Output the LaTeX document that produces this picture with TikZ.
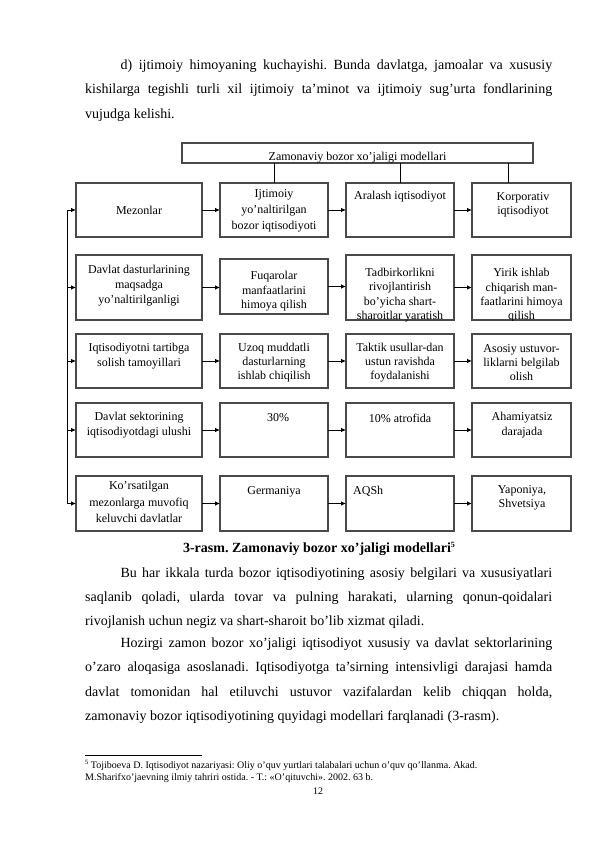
\documentclass[tikz,border=0pt]{standalone}
\usepackage{fontspec}
\setmainfont{Liberation Serif}
\usetikzlibrary{arrows.meta}
\definecolor{boxgray}{HTML}{4A4A4A}
\newcommand\jline[1]{\hbox to 467pt{#1}}
\begin{document}
\frenchspacing
\begin{tikzpicture}[x=1pt,y=-1pt,
  box/.style 2 args={draw=boxgray, line width=1.1pt, minimum width=#1pt, minimum height=#2pt, inner sep=0pt, outer sep=0pt},
  lbl/.style={font=\fontsize{12}{14.5}\selectfont, align=center, inner sep=0pt},
  conn/.style={line width=0.8pt, black},
  arr/.style={conn, -{Latex[length=5pt,width=4.5pt]}},
  para/.style={font=\fontsize{14}{24.3}\selectfont, inner sep=0pt, anchor=base west}]
\useasboundingbox (0,0) rectangle (595,842);
\fill[white] (0,0) rectangle (595,842);

% ---------- paragraph 1
\node[para] (p1) at (85,69.5) {\parbox[t]{467pt}{%
\jline{\hspace*{35.4pt}d) ijtimoiy himoyaning kuchayishi. Bunda davlatga, jamoalar va xususiy}
\jline{kishilarga tegishli turli xil ijtimoiy ta’minot va ijtimoiy sug’urta fondlarining}
\hbox{vujudga kelishi.}}};

% ---------- diagram boxes
\node[box={351}{20}] (top) at (357.5,153) {};
\node[lbl, anchor=base] (ttop) at (357.5,160.5) {Zamonaviy bozor xo’jaligi modellari};

\node[box={126}{54}] (b11) at (139,210) {};
\node[box={108}{54}] (b12) at (274,210) {};
\node[box={108}{54}] (b13) at (400,210) {};
\node[box={99}{54}]  (b14) at (521.5,210) {};

\node[box={126}{65}] (b21) at (139,287.5) {};
\node[box={108}{55}] (b22) at (274,286.5) {};
\node[box={108}{65}] (b23) at (400,287.5) {};
\node[box={99}{65}]  (b24) at (521.5,287.5) {};

\node[box={126}{54}] (b31) at (139,361) {};
\node[box={108}{54}] (b32) at (274,361) {};
\node[box={108}{54}] (b33) at (400,361) {};
\node[box={99}{54}]  (b34) at (521.5,361) {};

\node[box={126}{54}] (b41) at (139,430) {};
\node[box={108}{54}] (b42) at (274,430) {};
\node[box={108}{54}] (b43) at (400,430) {};
\node[box={99}{54}]  (b44) at (521.5,430) {};

\node[box={126}{55}] (b51) at (139,503.5) {};
\node[box={108}{55}] (b52) at (274,503.5) {};
\node[box={108}{55}] (b53) at (400,503.5) {};
\node[box={99}{55}]  (b54) at (521.5,503.5) {};

% ---------- box texts
\node[lbl] (t11) at (139,210) {Mezonlar};
\node[lbl, font=\fontsize{12}{16}\selectfont] (t12) at (274,211) {Ijtimoiy\\yo’naltirilgan\\bozor iqtisodiyoti};
\node[lbl] (t13) at (400,197) {Aralash iqtisodiyot};
\node[lbl] (t14) at (523,205) {Korporativ\\iqtisodiyot};

\node[lbl, font=\fontsize{12}{15}\selectfont] (t21) at (139,285.5) {Davlat dasturlarining\\maqsadga\\yo’naltirilganligi};
\node[lbl] (t22) at (274,291.5) {Fuqarolar\\manfaatlarini\\himoya qilish};
\node[lbl, font=\fontsize{12}{14.3}\selectfont] (t23) at (400,295) {Tadbirkorlikni\\rivojlantirish\\bo’yicha shart-\\sharoitlar yaratish};
\begin{scope}
\clip (b24.north west) rectangle (b24.south east);
\node[lbl, font=\fontsize{12}{14.3}\selectfont] (t24) at (521.5,295.5) {Yirik ishlab\\chiqarish man-\\faatlarini himoya\\qilish};
\end{scope}

\node[lbl] (t31) at (139,356) {Iqtisodiyotni tartibga\\solish tamoyillari};
\node[lbl, font=\fontsize{12}{14}\selectfont] (t32) at (274,363) {Uzoq muddatli\\dasturlarning\\ishlab chiqilish};
\node[lbl, font=\fontsize{12}{14}\selectfont] (t33) at (400,363) {Taktik usullar-dan\\ustun ravishda\\foydalanishi};
\node[lbl, font=\fontsize{12}{14}\selectfont] (t34) at (521.5,363) {Asosiy ustuvor-\\liklarni belgilab\\olish};

\node[lbl, font=\fontsize{12}{15}\selectfont] (t41) at (139,425.5) {Davlat sektorining\\iqtisodiyotdagi ulushi};
\node[lbl] (t42) at (278,418) {30\%};
\node[lbl] (t43) at (400,418) {10\% atrofida};
\node[lbl, font=\fontsize{12}{15}\selectfont] (t44) at (522,425.5) {Ahamiyatsiz\\darajada};

\node[lbl, font=\fontsize{12}{16.5}\selectfont] (t51) at (139,502) {Ko’rsatilgan\\mezonlarga muvofiq\\keluvchi davlatlar};
\node[lbl] (t52) at (274,492) {Germaniya};
\node[lbl, anchor=west] (t53) at (353,491) {AQSh};
\node[lbl, font=\fontsize{12}{14}\selectfont] (t54) at (522,498) {Yaponiya,\\Shvetsiya};

% ---------- connectors from the title box
\draw[conn] (b12.north) -- (b12.north |- top.south);
\draw[conn] (b13.north) -- (b13.north |- top.south);
\coordinate (k4) at ([xshift=-13.5pt]b14.north);
\draw[conn] (k4) -- (k4 |- top.south);

% ---------- left spine
\coordinate (sp) at (67,0);
\draw[conn] (sp |- b11.west) -- (sp |- b51.west);
\foreach \r in {1,...,5}{
  \draw[arr] (sp |- b\r1.west) -- (b\r1.west);
  \draw[arr] (b\r1.east) -- (b\r1.east -| b\r2.west);
  \draw[arr] (b\r2.east) -- (b\r2.east -| b\r3.west);
  \draw[arr] (b\r3.east) -- (b\r3.east -| b\r4.west);
}

% ---------- caption
\node[font=\fontsize{14}{16}\selectfont\bfseries, anchor=base, inner sep=0pt] (cap) at (319,552) {3-rasm. Zamonaviy bozor xo’jaligi modellari\raisebox{5pt}{\fontsize{8}{9}\selectfont 5}};

% ---------- paragraph 2
\node[para] (p2) at (85,577) {\parbox[t]{467pt}{%
\jline{\hspace*{35.4pt}Bu har ikkala turda bozor iqtisodiyotining asosiy belgilari va xususiyatlari}
\jline{saqlanib qoladi, ularda tovar va pulning harakati, ularning qonun-qoidalari}
\hbox{rivojlanish uchun negiz va shart-sharoit bo’lib xizmat qiladi.}}};

% ---------- paragraph 3
\node[para] (p3) at (85,647.5) {\parbox[t]{467pt}{%
\jline{\hspace*{35.4pt}Hozirgi zamon bozor xo’jaligi iqtisodiyot xususiy va davlat sektorlarining}
\jline{o’zaro aloqasiga asoslanadi. Iqtisodiyotga ta’sirning intensivligi darajasi hamda}
\jline{davlat tomonidan hal etiluvchi ustuvor vazifalardan kelib chiqqan holda,}
\hbox{zamonaviy bozor iqtisodiyotining quyidagi modellari farqlanadi (3-rasm).}}};

% ---------- footnote
\draw[line width=0.6pt] (85,755) -- (202,755);
\node[font=\fontsize{10}{12}\selectfont, anchor=base west, inner sep=0pt] (fn) at (85,768) {\parbox[t]{467pt}{%
\hbox{\raisebox{3.5pt}{\fontsize{6.5}{7}\selectfont 5} Tojiboeva D. Iqtisodiyot nazariyasi: Oliy o’quv yurtlari talabalari uchun o’quv qo’llanma. Akad.}
\hbox{M.Sharifxo’jaevning ilmiy tahriri ostida. - T.: «O’qituvchi». 2002. 63 b.}}};
\node[font=\fontsize{10}{12}\selectfont, anchor=base, inner sep=0pt] (pg) at (318,794) {12};
\end{tikzpicture}
\end{document}
